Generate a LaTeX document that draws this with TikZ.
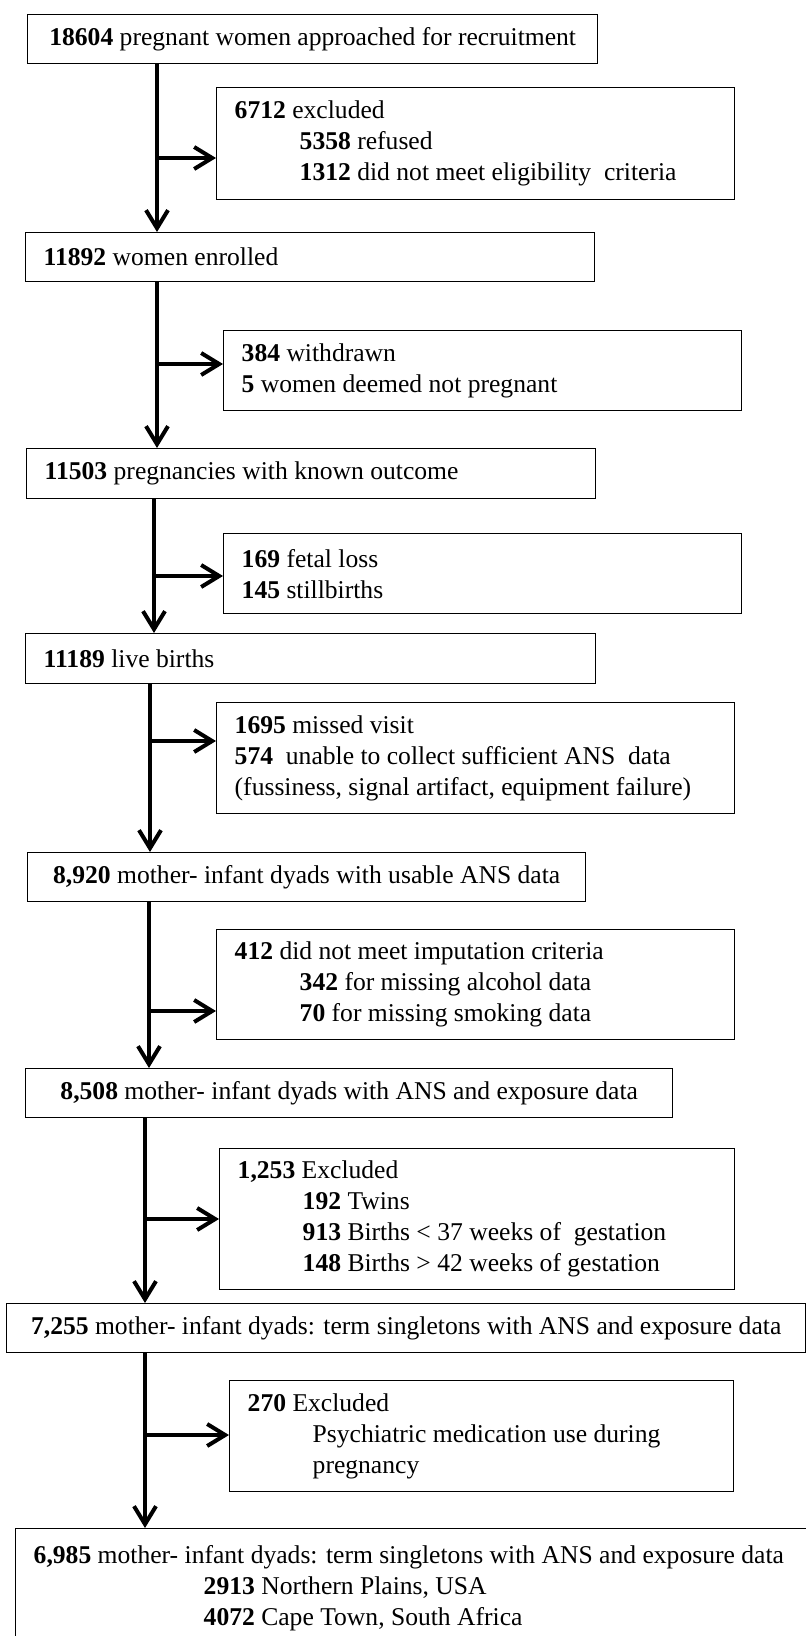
\documentclass[tikz,border=0pt]{standalone}
\usepackage{fontspec}
\setmainfont{Liberation Serif}
\usetikzlibrary{arrows.meta}
\tikzstyle{main box}=[
        draw = black,
        line width = 0.7pt,
        anchor = north west,
        inner xsep = 9pt,
        inner ysep = 0pt,
        minimum height = 24.5pt,
        font = \fontsize{12.8}{15.5}\selectfont
    ]
\tikzstyle{side box}=[
    draw = black,
    line width = 0.7pt,
    anchor = north west,
    inner xsep = 9pt,
    inner ysep = 0pt,
    align = flush left,
    font = \fontsize{12.8}{15.5}\selectfont
]
\tikzstyle{flow}=[
    line width = 2pt,
    -{Straight Barb[length=9pt,width=11pt]}
]
\newcommand{\ind}{\hspace*{32.5pt}}

\begin{document}
\begin{tikzpicture}[x=0.5pt, y=-0.5pt]
        \fill[white] (0,0) rectangle (806,1636);
        \useasboundingbox (0,0) rectangle (806,1636);

        % main column
        \node[main box, minimum width=285pt, align=center] (1) at (27,14) {\textbf{18604} pregnant women approached for recruitment};
        \node[main box, text width=266.5pt, align=flush left] (2) at (25,232) {\textbf{11892} women enrolled};
        \node[main box, text width=266.5pt, align=flush left, minimum height=25pt] (3) at (26,448) {\textbf{11503} pregnancies with known outcome};
        \node[main box, text width=267pt, align=flush left, minimum height=25pt] (4) at (25,633) {\textbf{11189} live births};
        \node[main box, minimum width=279pt, align=center] (5) at (27,852) {\textbf{8,920} mother- infant dyads with usable ANS data};
        \node[main box, minimum width=323.5pt, align=center] (6) at (25,1068) {\textbf{8,508} mother- infant dyads with ANS and exposure data};
        \node[main box, minimum width=399.5pt, align=center] (7) at (6,1303) {\textbf{7,255} mother- infant dyads: term singletons with ANS and exposure data};
        \node[main box, text width=380.5pt, minimum height=59pt, align=flush left] (8) at (15,1528) {\textbf{6,985} mother- infant dyads: term singletons with ANS and exposure data\\
            \hspace*{85pt}\textbf{2913} Northern Plains, USA\\
            \hspace*{85pt}\textbf{4072} Cape Town, South Africa};

        % exclusions
        \node[side box, text width=241pt, minimum height=56pt] (e1) at (216,87) {\textbf{6712} excluded\\ \ind\textbf{5358} refused\\ \ind\textbf{1312} did not meet eligibility\ \ criteria};
        \node[side box, text width=241pt, minimum height=40pt] (e2) at (223,330) {\textbf{384} withdrawn\\ \textbf{5} women deemed not pregnant};
        \node[side box, text width=241pt, minimum height=40pt] (e3) at (223,533) {\textbf{169} fetal loss\\ \textbf{145} stillbirths};
        \node[side box, text width=241pt, minimum height=55.5pt] (e4) at (216,702) {\textbf{1695} missed visit\\ \textbf{574}\ \ unable to collect sufficient ANS\ \ data\\ (fussiness, signal artifact, equipment failure)};
        \node[side box, text width=241pt, minimum height=55pt] (e5) at (216,929) {\textbf{412} did not meet imputation criteria\\ \ind\textbf{342} for missing alcohol data\\ \ind\textbf{70} for missing smoking data};
        \node[side box, text width=239.5pt, minimum height=70.5pt] (e6) at (219,1148) {\textbf{1,253} Excluded\\ \ind\textbf{192} Twins\\ \ind\textbf{913} Births < 37 weeks of\ \ gestation\\ \ind\textbf{148} Births > 42 weeks of gestation};
        \node[side box, text width=234pt, minimum height=55.5pt] (e7) at (229,1380) {\textbf{270} Excluded\\ \ind Psychiatric medication use during\\ \ind pregnancy};

        \coordinate (s1) at (157,158);
        \coordinate (s2) at (157,364);
        \coordinate (s3) at (154,576);
        \coordinate (s4) at (150,741);
        \coordinate (s5) at (149,1011);
        \coordinate (s6) at (145,1219);
        \coordinate (s7) at (145,1435);

        \draw[flow] (1.south -| s1) -- (2.north -| s1);
        \draw[flow] (2.south -| s2) -- (3.north -| s2);
        \draw[flow] (3.south -| s3) -- (4.north -| s3);
        \draw[flow] (4.south -| s4) -- (5.north -| s4);
        \draw[flow] (5.south -| s5) -- (6.north -| s5);
        \draw[flow] (6.south -| s6) -- (7.north -| s6);
        \draw[flow] (7.south -| s7) -- (8.north -| s7);

        \draw[flow] (s1) -- (s1 -| e1.west);
        \draw[flow] (s2) -- (s2 -| e2.west);
        \draw[flow] (s3) -- (s3 -| e3.west);
        \draw[flow] (s4) -- (s4 -| e4.west);
        \draw[flow] (s5) -- (s5 -| e5.west);
        \draw[flow] (s6) -- (s6 -| e6.west);
        \draw[flow] (s7) -- (s7 -| e7.west);

    \end{tikzpicture}
\end{document}
